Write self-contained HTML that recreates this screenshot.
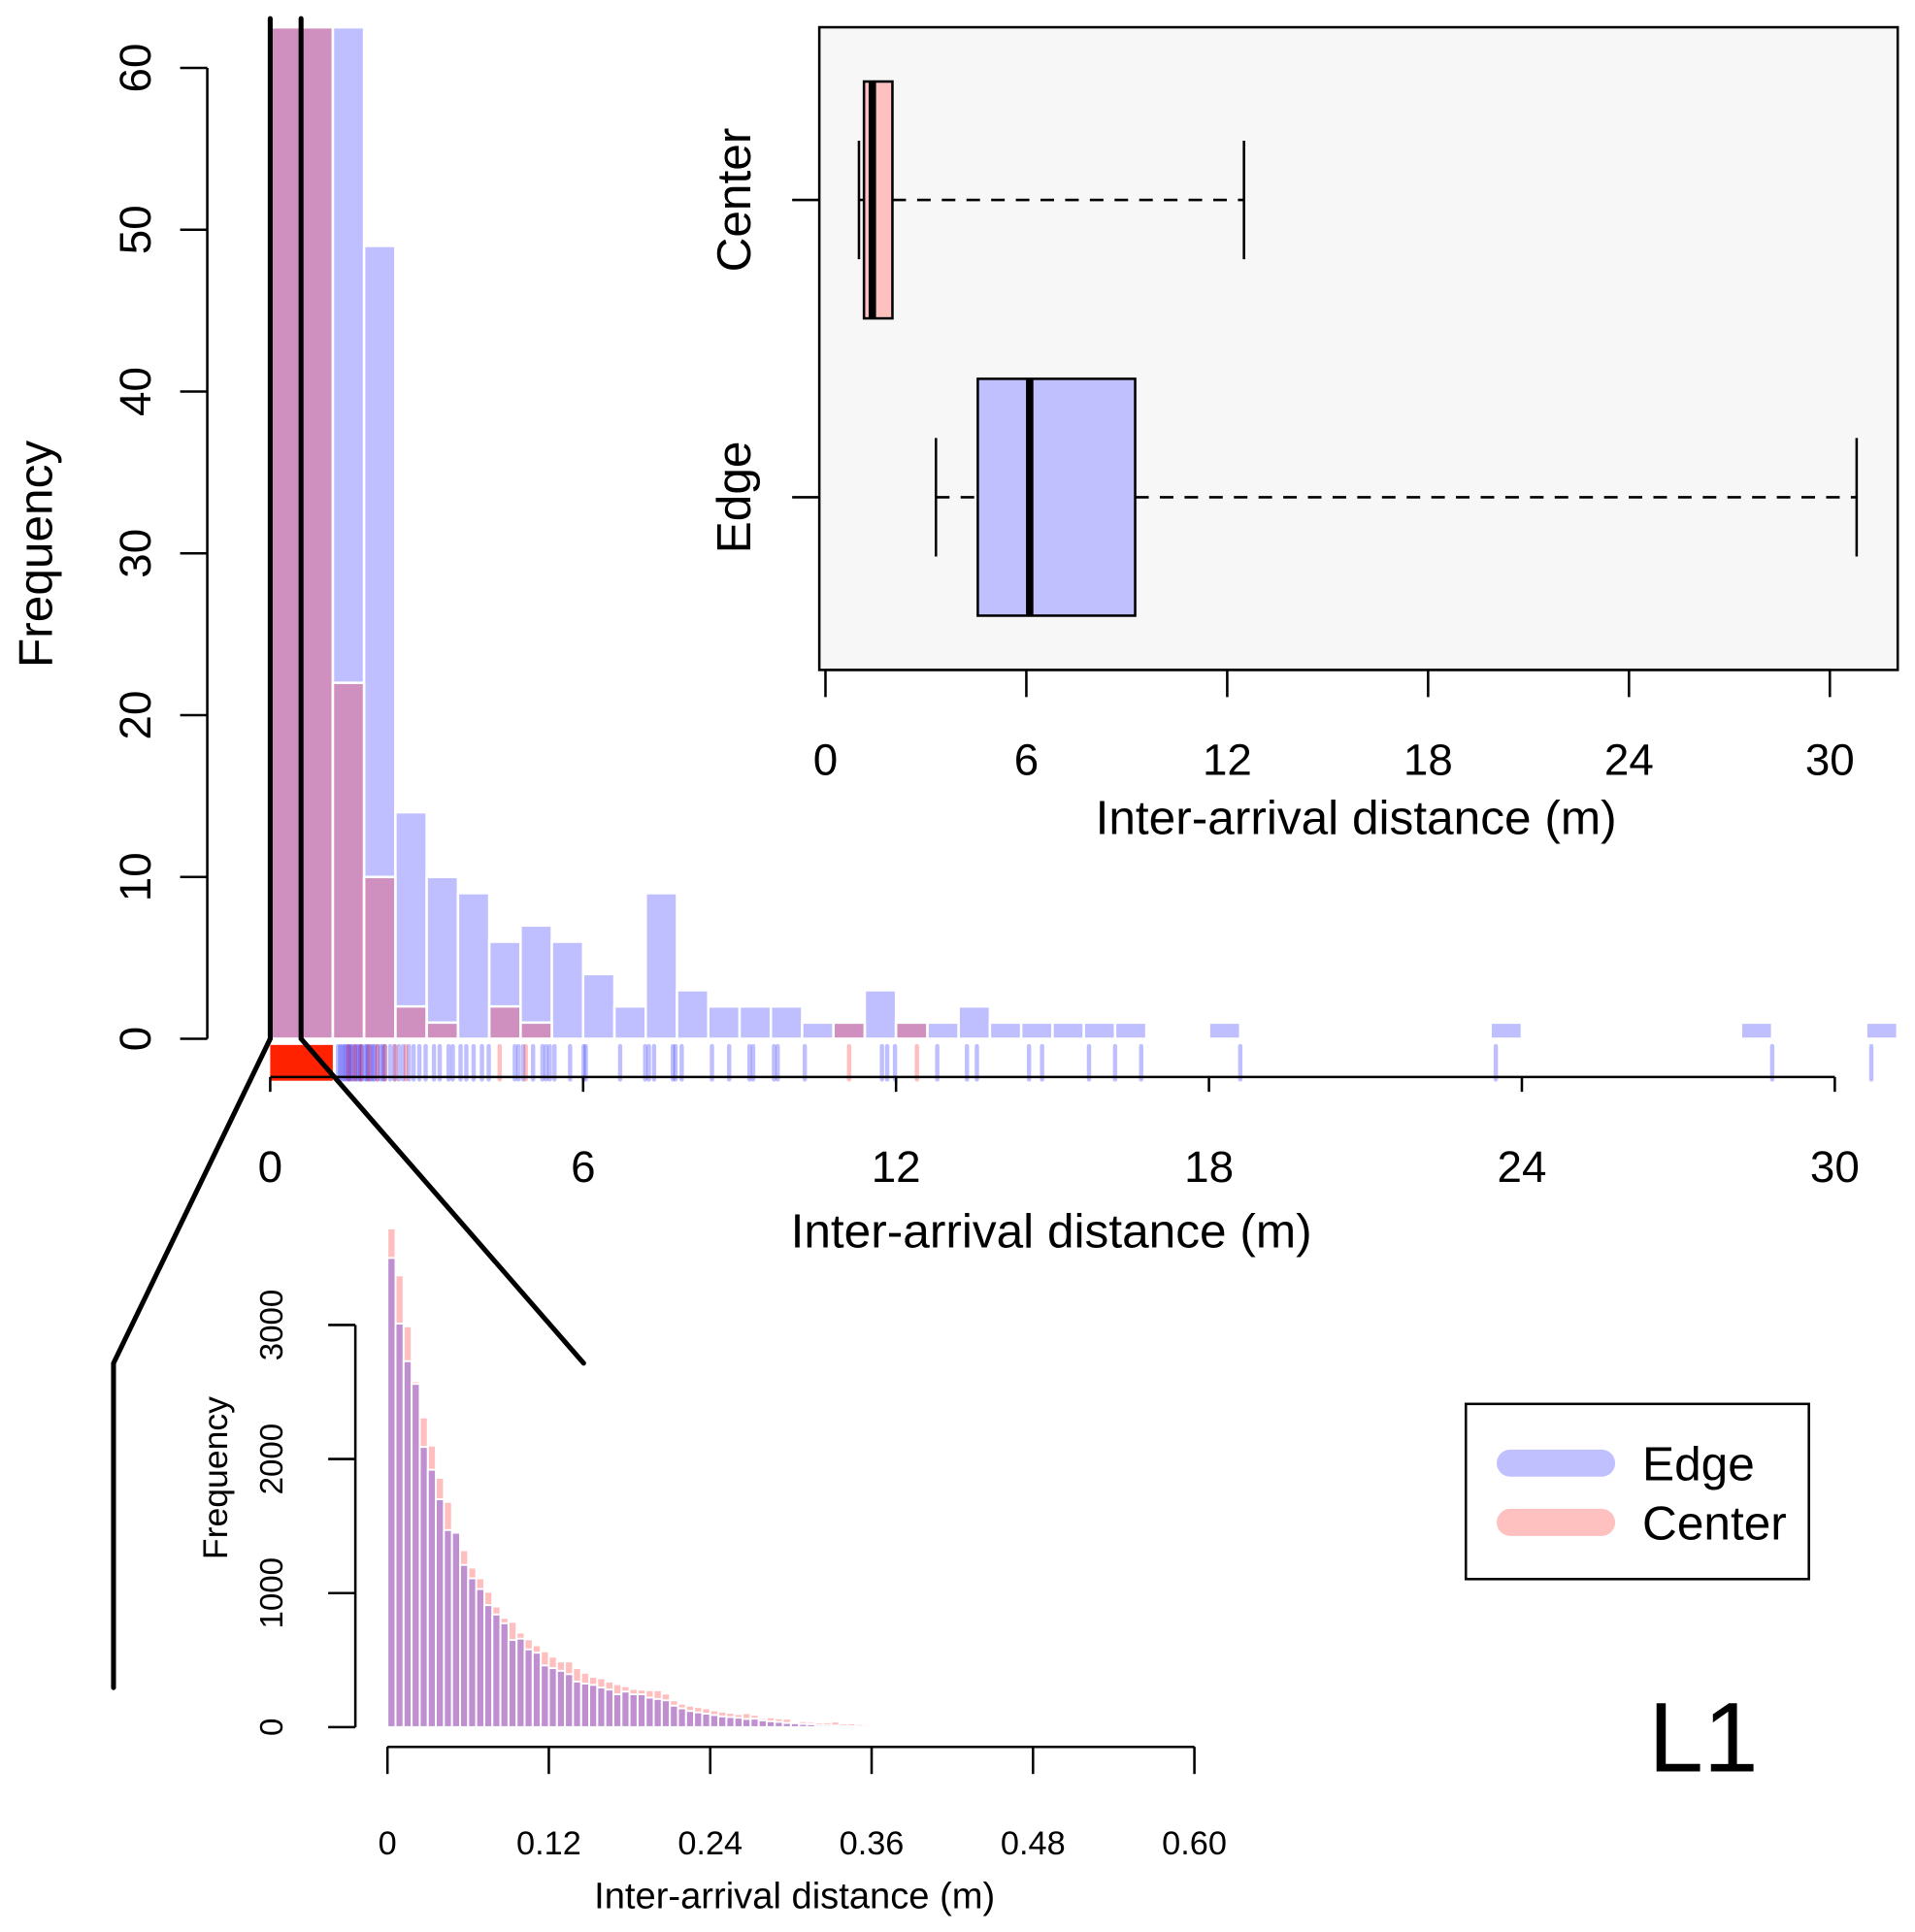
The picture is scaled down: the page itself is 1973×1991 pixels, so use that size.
<!DOCTYPE html>
<html><head><meta charset="utf-8"><style>
html,body{margin:0;padding:0;background:#fff}
svg{display:block;font-family:"Liberation Sans",Arial,sans-serif}
</style></head><body>
<svg id="chart" width="1973" height="1991" viewBox="0 0 1552 1566" xmlns="http://www.w3.org/2000/svg">
<g id="main"></g>
<g id="box"></g>
<g id="zoomh"></g>
<g id="legend">
  <rect x="1188" y="1138" width="278" height="142" fill="#fff" stroke="#000" stroke-width="2"/>
  <line x1="1224" y1="1186" x2="1298" y2="1186" stroke="#c0c0ff" stroke-width="22" stroke-linecap="round"/>
  <text x="1331" y="1200" font-size="39">Edge</text>
  <line x1="1224" y1="1234" x2="1298" y2="1234" stroke="#ffc0c0" stroke-width="22" stroke-linecap="round"/>
  <text x="1331" y="1248" font-size="39">Center</text>
</g>
<text x="1336" y="1436" font-size="80">L1</text>
</svg>
<script>
// ---------- main histogram data ----------
const mainBinWidth = 0.6;
const edgeCounts = [160,120,70,49,14,10,9,6,7,6,4,2,9,3,2,2,2,1,1,3,1,1,2,1,1,1,1,1,0,0,1,0,0,0,0,0,0,0,0,1,0,0,0,0,0,0,0,1,0,0,0,1];
const centerCounts = [160,120,22,10,2,1,0,2,1,0,0,0,0,0,0,0,0,0,1,0,1];
const mainXTicks = [0,6,12,18,24,30];
const mainYTicks = [0,10,20,30,40,50,60];
const edgeRug = [1.3,1.34,1.38,1.42,1.45,1.49,1.52,1.55,1.58,1.63,1.66,1.7,1.73,1.76,1.82,1.85,1.88,1.93,1.97,2.0,2.06,2.12,2.16,2.2,2.3,2.38,2.47,2.55,2.66,2.75,2.86,2.98,3.14,3.25,3.42,3.5,3.65,3.76,3.9,4.06,4.19,4.69,4.76,4.85,5.04,5.22,5.29,5.36,5.45,5.75,6.01,6.05,6.71,7.19,7.26,7.36,7.72,7.77,7.89,8.47,8.8,9.19,9.26,9.66,9.73,10.25,11.73,11.83,11.98,12.79,13.36,13.55,14.55,14.8,15.7,16.2,16.7,18.6,23.5,28.8,30.7];
const centerRug = [1.5,1.62,1.74,1.9,2.05,2.2,2.4,2.6,4.4,4.9,11.1,12.4];
const centerDenseRange = [0,1.2];
// ---------- boxplot data ----------
const boxGroups = ["Center","Edge"];
const centerBox = [1.0,1.15,1.4,2.0,12.5];
const edgeBox = [3.3,4.55,6.1,9.25,30.8];
const boxXTicks = [0,6,12,18,24,30];
// ---------- zoom histogram data ----------
const zoomBinWidth = 0.006;
const zoomCenter = [3720,3370,2990,2580,2310,2100,1860,1680,1460,1320,1190,1110,1010,900,815,785,705,655,610,565,525,490,490,440,405,375,365,340,320,305,285,280,275,275,250,200,175,160,150,140,125,115,107,97,104,92,68,73,65,63,41,44,39,34,36,41,27,27,22,18,15,12,10,8,9,6,5,4,3];
const zoomEdge   = [3500,3010,2730,2560,2090,1920,1700,1470,1450,1210,1110,1030,910,840,775,650,660,580,555,460,440,420,395,340,325,315,295,280,245,265,245,245,220,210,200,160,140,120,110,100,90,80,75,70,61,63,51,44,39,31,29,24,22,15,15,12,8,7,5,5,3,3,2,2,1,1,0,0,1];
const zoomXTicks = ["0","0.12","0.24","0.36","0.48","0.60"];
const zoomYTicks = [0,1000,2000,3000];

const NS="http://www.w3.org/2000/svg";
function mk(parent,tag,attrs,text){const e=document.createElementNS(NS,tag);for(const k in attrs)e.setAttribute(k,attrs[k]);if(text!==undefined)e.textContent=text;parent.appendChild(e);return e;}

// ---------- main ----------
const gm=document.getElementById('main');
const mx=v=>219+v*(1487-219)/30;
const my=v=>842-v*(842-55)/60;
const topClip=22;
function drawBars(counts,fill,name){
  counts.forEach((c,i)=>{
    if(c<=0)return;
    const x0=mx(i*mainBinWidth), x1=mx((i+1)*mainBinWidth);
    const y=Math.max(topClip,my(c));
    const r=mk(gm,'rect',{x:x0,y:y,width:x1-x0,height:842-y,fill:fill,stroke:'#fff','stroke-width':2});
    
    
  });
}
drawBars(edgeCounts,'rgba(0,0,255,0.25)','edge');
drawBars(centerCounts,'rgba(255,0,0,0.25)','center');
const dense=mk(gm,'rect',{x:mx(centerDenseRange[0]),y:847,width:mx(centerDenseRange[1])-mx(centerDenseRange[0]),height:29,fill:'#ff2200'});


edgeRug.forEach((v,i)=>{
  const l=mk(gm,'line',{x1:mx(v),x2:mx(v),y1:848,y2:875,stroke:'rgba(0,0,255,0.25)','stroke-width':3.5,'stroke-linecap':'round'});
  
  
});
centerRug.forEach((v,i)=>{
  const l=mk(gm,'line',{x1:mx(v),x2:mx(v),y1:848,y2:875,stroke:'rgba(255,0,0,0.25)','stroke-width':3.5,'stroke-linecap':'round'});
  
  
});
let a=mk(gm,'line',{x1:mx(0),x2:mx(30),y1:873,y2:873,stroke:'#000','stroke-width':2});

mainXTicks.forEach(t=>{
  mk(gm,'line',{x1:mx(t),x2:mx(t),y1:873,y2:885,stroke:'#000','stroke-width':2});
  const tx=mk(gm,'text',{x:mx(t),y:958,'font-size':36,'text-anchor':'middle'},String(t));
  
  
});
a=mk(gm,'text',{x:852,y:1011,'font-size':39,'text-anchor':'middle'},'Inter-arrival distance (m)');

a=mk(gm,'line',{x1:168,x2:168,y1:my(0),y2:my(60),stroke:'#000','stroke-width':2});

mainYTicks.forEach(t=>{
  mk(gm,'line',{x1:146,x2:168,y1:my(t),y2:my(t),stroke:'#000','stroke-width':2});
  const tx=mk(gm,'text',{x:0,y:0,'font-size':36,'text-anchor':'middle',transform:`translate(122,${my(t)}) rotate(-90)`},String(t));
  
  
});
a=mk(gm,'text',{x:0,y:0,'font-size':39,'text-anchor':'middle',transform:'translate(42,449) rotate(-90)'},'Frequency');

[[219,15,219,842],[244,15,244,842]].forEach(p=>{
  const l=mk(gm,'line',{x1:p[0],y1:p[1],x2:p[2],y2:p[3],stroke:'#000','stroke-width':4,'stroke-linecap':'round'});
  
});
a=mk(gm,'polyline',{points:'219,842 92,1105 92,1368',fill:'none',stroke:'#000','stroke-width':4,'stroke-linecap':'round','stroke-linejoin':'round'});

a=mk(gm,'line',{x1:244,y1:842,x2:473,y2:1105,stroke:'#000','stroke-width':4,'stroke-linecap':'round'});


// ---------- boxplot ----------
const gb=document.getElementById('box');
const bx=v=>669+v*(1483-669)/30;
a=mk(gb,'rect',{x:664,y:22,width:874,height:521,fill:'#f7f7f7',stroke:'#000','stroke-width':2});

function drawBox(s,cy,fill,name){
  const h=96;
  let e=mk(gb,'line',{x1:bx(s[3]),x2:bx(s[4]),y1:cy,y2:cy,stroke:'#000','stroke-width':2,'stroke-dasharray':'11,9'});
  
  e=mk(gb,'line',{x1:bx(s[0]),x2:bx(s[1]),y1:cy,y2:cy,stroke:'#000','stroke-width':2,'stroke-dasharray':'11,9'});
  
  [s[0],s[4]].forEach(v=>{mk(gb,'line',{x1:bx(v),x2:bx(v),y1:cy-48,y2:cy+48,stroke:'#000','stroke-width':2});});
  e=mk(gb,'rect',{x:bx(s[1]),y:cy-h,width:bx(s[3])-bx(s[1]),height:2*h,fill:fill,stroke:'#000','stroke-width':2});
  
  e=mk(gb,'line',{x1:bx(s[2]),x2:bx(s[2]),y1:cy-h,y2:cy+h,stroke:'#000','stroke-width':6});
  
}
drawBox(centerBox,162,'#ffc0c0','center');
drawBox(edgeBox,403,'#c0c0ff','edge');
[[162,boxGroups[0]],[403,boxGroups[1]]].forEach(g=>{
  mk(gb,'line',{x1:642,x2:664,y1:g[0],y2:g[0],stroke:'#000','stroke-width':2});
  const t=mk(gb,'text',{x:0,y:0,'font-size':39,'text-anchor':'middle',transform:`translate(608,${g[0]}) rotate(-90)`},g[1]);
  
});
a=mk(gb,'line',{x1:bx(0),x2:bx(30),y1:543,y2:543,stroke:'#000','stroke-width':2});

boxXTicks.forEach(t=>{
  mk(gb,'line',{x1:bx(t),x2:bx(t),y1:543,y2:565,stroke:'#000','stroke-width':2});
  const tx=mk(gb,'text',{x:bx(t),y:628,'font-size':36,'text-anchor':'middle'},String(t));
  
});
a=mk(gb,'text',{x:1099,y:676,'font-size':39,'text-anchor':'middle'},'Inter-arrival distance (m)');


// ---------- zoom histogram ----------
const gz=document.getElementById('zoomh');
const zx=v=>314+v*(968-314)/0.6;
const zy=v=>1400-v*(1400-1074)/3000;
function zBars(arr,fill,name){
  arr.forEach((c,i)=>{
    if(c<=0)return;
    const x0=zx(i*zoomBinWidth),x1=zx((i+1)*zoomBinWidth);
    const r=mk(gz,'rect',{x:x0,y:zy(c),width:x1-x0,height:1400-zy(c),fill:fill,stroke:'#fff','stroke-width':1.5});
    
    
  });
}
zBars(zoomCenter,'rgba(255,0,0,0.25)','zoom-center');
zBars(zoomEdge,'rgba(0,0,255,0.25)','zoom-edge');
a=mk(gz,'line',{x1:288,x2:288,y1:zy(0),y2:zy(3000),stroke:'#000','stroke-width':2});

zoomYTicks.forEach(t=>{
  mk(gz,'line',{x1:266,x2:288,y1:zy(t),y2:zy(t),stroke:'#000','stroke-width':2});
  const tx=mk(gz,'text',{x:0,y:0,'font-size':26,'text-anchor':'middle',transform:`translate(229,${zy(t)}) rotate(-90)`},String(t));
  
});
a=mk(gz,'text',{x:0,y:0,'font-size':28,'text-anchor':'middle',transform:'translate(184,1198) rotate(-90)'},'Frequency');

a=mk(gz,'line',{x1:zx(0),x2:zx(0.6),y1:1416,y2:1416,stroke:'#000','stroke-width':2});

zoomXTicks.forEach(t=>{
  const v=parseFloat(t);
  mk(gz,'line',{x1:zx(v),x2:zx(v),y1:1416,y2:1438,stroke:'#000','stroke-width':2});
  const tx=mk(gz,'text',{x:zx(v),y:1503,'font-size':27,'text-anchor':'middle'},t);
  
});
a=mk(gz,'text',{x:644,y:1547,'font-size':30,'text-anchor':'middle'},'Inter-arrival distance (m)');

</script>
</body></html>
